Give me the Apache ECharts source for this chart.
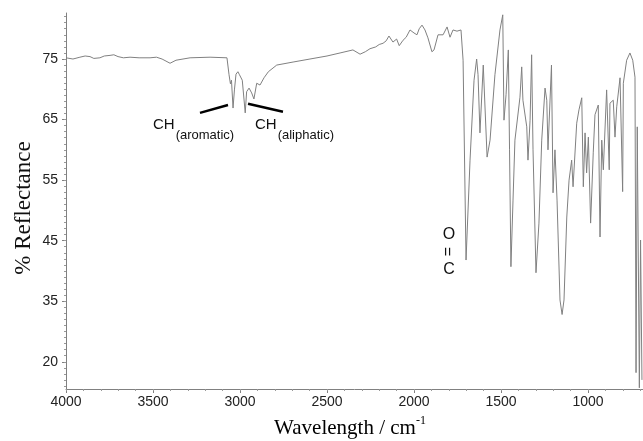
<!DOCTYPE html>
<html>
<head>
<meta charset="utf-8">
<script src="https://cdn.jsdelivr.net/npm/echarts@6/dist/echarts.min.js"></script>
<style>
  html, body { margin: 0; padding: 0; background: #fff; }
  #chart { width: 643px; height: 441px; }
</style>
</head>
<body>
<div id="chart"></div>
<script>
// spectrum (wavenumber in cm-1, % reflectance)
var wavenumbers = [
  4000, 3960, 3920, 3890, 3862, 3840, 3805, 3780, 3747, 3725,
  3701, 3670, 3632, 3580, 3517, 3480, 3448, 3402, 3368, 3287,
  3172, 3075, 3063, 3055, 3049, 3040, 3032, 3023, 3012, 3003,
  2994, 2987, 2970, 2962, 2948, 2933, 2920, 2904, 2885, 2862,
  2837, 2789, 2695, 2598, 2500, 2425, 2351, 2310, 2280, 2253,
  2220, 2200, 2178, 2160, 2144, 2121, 2100, 2085, 2063, 2045,
  2023, 2000, 1983, 1970, 1954, 1937, 1920, 1897, 1885, 1862,
  1833, 1810, 1793, 1776, 1753, 1730, 1718, 1701, 1678, 1655,
  1640, 1632, 1621, 1602, 1580, 1563, 1535, 1506, 1490, 1483,
  1471, 1458, 1451, 1443, 1431, 1420, 1391, 1381, 1374, 1352,
  1345, 1333, 1324, 1316, 1299, 1282, 1266, 1247, 1237, 1230,
  1210, 1201, 1190, 1178, 1161, 1149, 1138, 1122, 1109, 1094,
  1086, 1065, 1052, 1036, 1027, 1017, 1008, 998, 985, 970,
  960, 941, 931, 921, 912, 893, 878, 874, 855, 845,
  835, 816, 801, 797, 778, 759, 743, 730, 724, 717,
  705, 698, 690
];
var reflectance = [
  75.2, 75.0, 75.3, 75.5, 75.4, 75.1, 75.2, 75.5, 75.6, 75.7,
  75.4, 75.2, 75.3, 75.2, 75.2, 75.3, 75.0, 74.3, 74.8, 75.2,
  75.3, 75.2, 72.4, 70.9, 71.5, 66.9, 69.9, 72.5, 72.9, 72.4,
  72.2, 71.5, 66.1, 69.6, 70.2, 69.4, 68.4, 71.0, 70.7, 71.9,
  72.9, 74.0, 74.5, 75.0, 75.5, 76.0, 76.5, 75.8, 76.2, 76.7,
  77.0, 77.4, 77.6, 78.0, 78.8, 77.8, 78.3, 77.2, 78.1, 78.6,
  79.8, 79.3, 79.0, 80.0, 80.6, 79.8, 78.5, 76.2, 76.5, 79.0,
  79.0, 80.3, 78.6, 79.8, 79.6, 79.8, 74.8, 41.8, 58.3, 71.5,
  75.0, 72.4, 62.8, 74.0, 58.8, 61.6, 72.4, 79.8, 82.3, 64.9,
  69.1, 76.5, 60.0, 40.7, 51.7, 61.6, 68.7, 73.7, 68.2, 63.8,
  58.3, 64.9, 75.7, 60.0, 39.7, 47.9, 61.6, 70.2, 68.2, 60.0,
  74.0, 52.9, 60.0, 51.7, 35.2, 32.8, 35.2, 48.9, 55.0, 58.3,
  53.9, 64.4, 66.6, 68.6, 53.9, 62.8, 56.2, 62.1, 47.9, 59.5,
  65.8, 67.4, 45.6, 61.6, 56.7, 69.9, 56.7, 67.7, 68.2, 62.1,
  67.1, 71.9, 53.1, 71.0, 74.8, 76.0, 74.8, 72.0, 23.2, 63.8,
  20.7, 45.1, 22.0
];

var xTicks = [4000, 3500, 3000, 2500, 2000, 1500, 1000];
// the original figure spaces its ticks evenly, but the lowest one reads "20"
var yTicks = [25, 35, 45, 55, 65, 75];
var yTickLabels = ['20', '35', '45', '55', '65', '75'];

// small ticks every 100 cm-1 and every 1 %
var xMinor = [];
for (var w = 700; w <= 4000; w += 100) xMinor.push(w);
var yMinor = [];
for (var r = 21; r <= 82; r++) yMinor.push(r);

// annotation bars and label anchors, in data units
var aromaticBar = [[3230, 66.1], [3069, 67.4]];
var aliphaticBar = [[2954, 67.6], [2753, 66.3]];
var aromaticAt = [3500, 64.1];
var aliphaticAt = [2914, 64.1];
var carbonylAt = [1799, 46.0, 43.2, 40.2];

var data = wavenumbers.map(function (w, i) { return [w, reflectance[i]]; });

var axisGrey = '#808080';
var sans = '"Liberation Sans", Arial, sans-serif';
var serif = '"Liberation Serif", "Times New Roman", serif';

var myChart = echarts.init(document.getElementById('chart'));

var option = {
  animation: false,
  backgroundColor: '#fff',
  grid: { left: 66, right: 0, top: 13, bottom: 52 },
  xAxis: [
    {
      type: 'value',
      min: 684,
      max: 4000,
      inverse: true,
      axisLine: { show: true, lineStyle: { color: axisGrey, width: 1 } },
      axisTick: { show: true, customValues: xTicks, length: 4, lineStyle: { color: axisGrey } },
      axisLabel: {
        customValues: xTicks,
        color: '#222',
        fontFamily: sans,
        fontSize: 14,
        margin: 6,
        formatter: function (v) { return String(v); }
      },
      splitLine: { show: false }
    },
    {
      type: 'value',
      min: 684,
      max: 4000,
      inverse: true,
      position: 'bottom',
      axisLine: { show: false },
      axisTick: { show: true, customValues: xMinor, length: 2, lineStyle: { color: '#999' } },
      axisLabel: { show: false },
      splitLine: { show: false }
    }
  ],
  yAxis: [
    {
      type: 'value',
      min: 20.5,
      max: 82.6,
      axisLine: { show: true, lineStyle: { color: axisGrey, width: 1 } },
      axisTick: { show: true, customValues: yTicks, length: 4, lineStyle: { color: axisGrey } },
      axisLabel: {
        customValues: yTicks,
        color: '#222',
        fontFamily: sans,
        fontSize: 14,
        margin: 8,
        formatter: function (v) {
          var i = yTicks.indexOf(v);
          return i >= 0 ? yTickLabels[i] : '';
        }
      },
      splitLine: { show: false }
    },
    {
      type: 'value',
      min: 20.5,
      max: 82.6,
      position: 'left',
      axisLine: { show: false },
      axisTick: { show: true, customValues: yMinor, length: 2, lineStyle: { color: '#999' } },
      axisLabel: { show: false },
      splitLine: { show: false }
    }
  ],
  series: [
    {
      type: 'line',
      data: data,
      xAxisIndex: 0,
      yAxisIndex: 0,
      showSymbol: false,
      symbol: 'none',
      lineStyle: { color: '#808080', width: 1 },
      markLine: {
        silent: true,
        symbol: 'none',
        label: { show: false },
        lineStyle: { color: '#000', width: 2.5, type: 'solid' },
        data: [
          [{ coord: aromaticBar[0] }, { coord: aromaticBar[1] }],
          [{ coord: aliphaticBar[0] }, { coord: aliphaticBar[1] }]
        ]
      }
    }
  ]
};
myChart.setOption(option);

// text labels placed through the chart's own scale
function px(w, r) { return myChart.convertToPixel({ seriesIndex: 0 }, [w, r]); }

var ctx = document.createElement('canvas').getContext('2d');
ctx.font = '15px ' + sans;
var chWidth = ctx.measureText('CH').width;

function chLabel(at, sub) {
  var p = px(at[0], at[1]);
  return [
    {
      type: 'text', x: p[0], y: p[1],
      style: { text: 'CH', fontSize: 15, fontFamily: sans, fill: '#111', align: 'left', verticalAlign: 'middle' }
    },
    {
      type: 'text', x: p[0] + chWidth + 1, y: p[1] + 10,
      style: { text: sub, fontSize: 13, fontFamily: sans, fill: '#111', align: 'left', verticalAlign: 'middle' }
    }
  ];
}

var coO = px(carbonylAt[0], carbonylAt[1]);
var coEq = px(carbonylAt[0], carbonylAt[2]);
var coC = px(carbonylAt[0], carbonylAt[3]);

var graphics = []
  .concat(chLabel(aromaticAt, '(aromatic)'))
  .concat(chLabel(aliphaticAt, '(aliphatic)'))
  .concat([
    {
      type: 'text', x: coO[0], y: coO[1],
      style: { text: 'O', fontSize: 16, fontFamily: sans, fill: '#111', align: 'center', verticalAlign: 'middle' }
    },
    {
      type: 'text', x: coEq[0], y: coEq[1], rotation: Math.PI / 2,
      style: { text: '=', fontSize: 16, fontFamily: sans, fill: '#111', align: 'center', verticalAlign: 'middle' }
    },
    {
      type: 'text', x: coC[0], y: coC[1],
      style: { text: 'C', fontSize: 16, fontFamily: sans, fill: '#111', align: 'center', verticalAlign: 'middle' }
    },
    {
      type: 'text', x: 24, y: 208, rotation: Math.PI / 2,
      style: { text: '% Reflectance', fontSize: 23, fontFamily: serif, fill: '#111', align: 'center', verticalAlign: 'middle' }
    },
    {
      type: 'text', x: 350, y: 427,
      style: {
        text: '{m|Wavelength / cm}{s|-1}',
        align: 'center',
        verticalAlign: 'middle',
        rich: {
          m: { fontSize: 21, fontFamily: serif, color: '#111', lineHeight: 24, verticalAlign: 'bottom' },
          s: { fontSize: 12, fontFamily: serif, color: '#111', lineHeight: 12, verticalAlign: 'top' }
        }
      }
    }
  ]);

myChart.setOption({ graphic: graphics });

window.addEventListener('resize', function () {
  myChart.resize();
});
</script>
</body>
</html>
